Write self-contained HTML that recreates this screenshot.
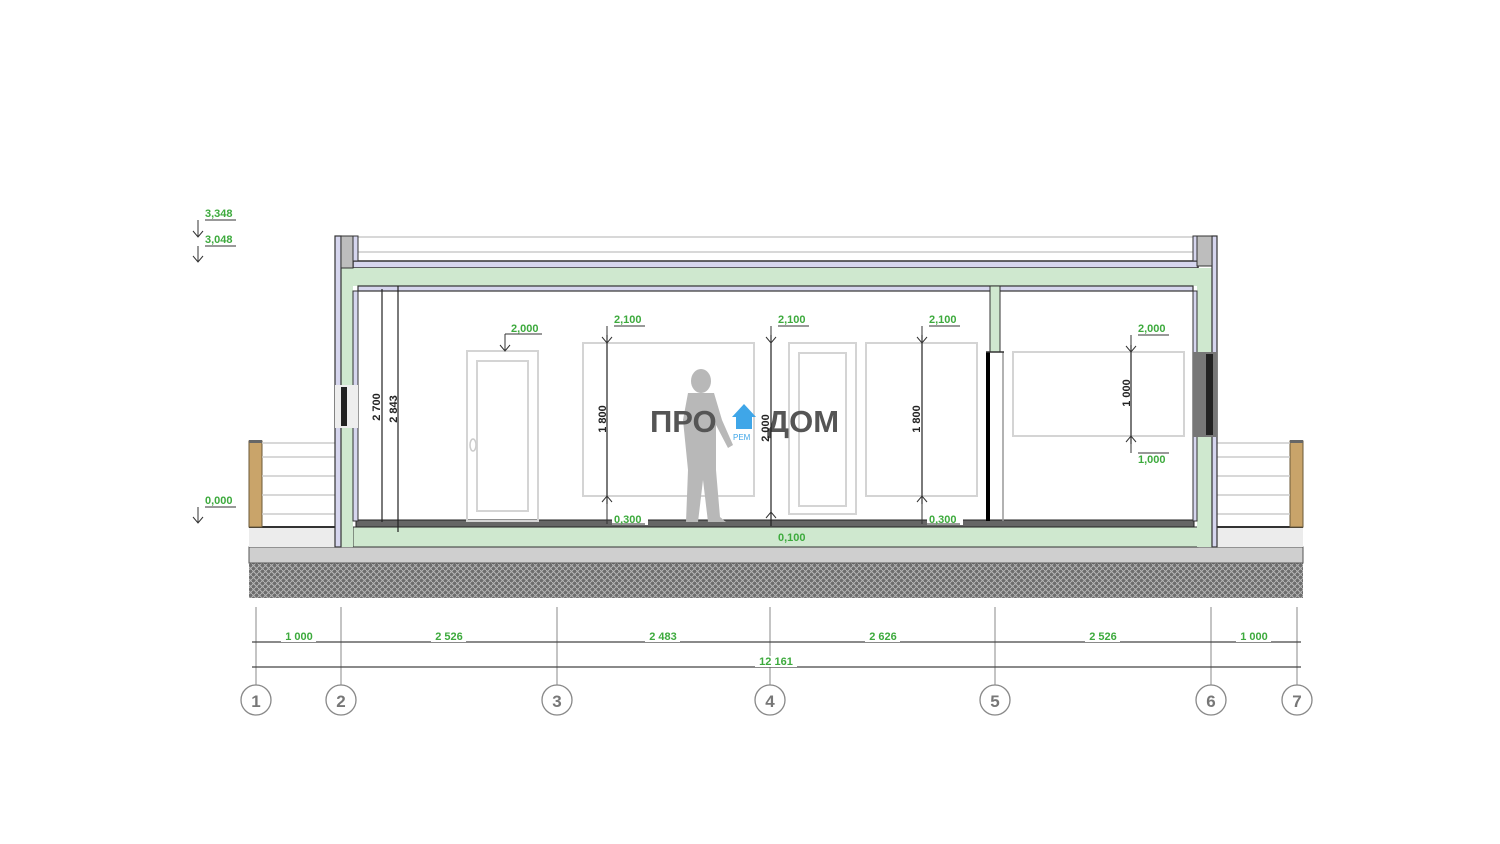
<!DOCTYPE html>
<html><head><meta charset="utf-8"><style>html,body{margin:0;padding:0;background:#fff}svg{display:block}</style></head>
<body>
<svg width="1500" height="844" viewBox="0 0 1500 844" xmlns="http://www.w3.org/2000/svg" font-family="Liberation Sans, sans-serif">
<defs>
<pattern id="gr" width="6" height="6" patternUnits="userSpaceOnUse">
<rect width="6" height="6" fill="#6d6d6d"/><path d="M0 0L3 3M3 0L0 3M3 3L6 6M6 3L3 6" stroke="#b5b5b5" stroke-width="1"/>
</pattern>
</defs>
<rect x="249" y="563" width="1054" height="35" fill="url(#gr)"/>
<rect x="249" y="547" width="1054" height="16" fill="#cfcfcf" stroke="#555" stroke-width="1"/>
<rect x="249" y="527" width="86" height="20" fill="#ececec"/><line x1="249" y1="527" x2="335" y2="527" stroke="#333" stroke-width="2"/>
<rect x="1217" y="527" width="86" height="20" fill="#ececec"/><line x1="1217" y1="527" x2="1303" y2="527" stroke="#333" stroke-width="2"/>
<rect x="249" y="441" width="13" height="86" fill="#c9a46a" stroke="#6b5a3a"/><rect x="249" y="440" width="13" height="3" fill="#666"/>
<rect x="1290" y="441" width="13" height="86" fill="#c9a46a" stroke="#6b5a3a"/><rect x="1290" y="440" width="13" height="3" fill="#666"/>
<g stroke="#ccc" stroke-width="1.5">
<line x1="262" y1="443" x2="335" y2="443"/><line x1="262" y1="457" x2="335" y2="457"/><line x1="262" y1="476" x2="335" y2="476"/><line x1="262" y1="495" x2="335" y2="495"/><line x1="262" y1="514" x2="335" y2="514"/>
<line x1="1217" y1="443" x2="1290" y2="443"/><line x1="1217" y1="457" x2="1290" y2="457"/><line x1="1217" y1="476" x2="1290" y2="476"/><line x1="1217" y1="495" x2="1290" y2="495"/><line x1="1217" y1="514" x2="1290" y2="514"/>
</g>
<line x1="358" y1="237" x2="1193" y2="237" stroke="#ccc" stroke-width="1.5"/>
<line x1="358" y1="252" x2="1193" y2="252" stroke="#ccc" stroke-width="1.5"/>
<rect x="353" y="261" width="845" height="7" fill="#d6d6ee" stroke="#333" stroke-width="1.5"/>
<rect x="353" y="268" width="845" height="18" fill="#cfe8cf"/>
<rect x="358" y="286" width="835" height="5" fill="#d6d6ee" stroke="#333" stroke-width="1.2"/>
<rect x="353" y="527" width="845" height="20" fill="#cfe8cf" stroke="#333" stroke-width="1"/>
<rect x="356" y="520" width="838" height="7" fill="#666" stroke="#222"/>
<rect x="341" y="268" width="12" height="279" fill="#cfe8cf"/>
<rect x="335" y="236" width="6" height="311" fill="#d6d6ee" stroke="#333" stroke-width="1.2"/>
<rect x="341" y="236" width="12" height="32" fill="#bdbdbd" stroke="#333" stroke-width="1"/>
<rect x="353" y="236" width="5" height="25" fill="#d6d6ee" stroke="#333" stroke-width="1"/>
<rect x="353" y="291" width="5" height="230" fill="#d6d6ee" stroke="#333" stroke-width="1"/>
<rect x="335" y="385" width="23" height="43" fill="#eee"/>
<rect x="341" y="387" width="6" height="39" fill="#222"/>
<rect x="1197" y="268" width="15" height="279" fill="#cfe8cf"/>
<rect x="1212" y="236" width="5" height="311" fill="#d6d6ee" stroke="#333" stroke-width="1.2"/>
<rect x="1197" y="236" width="15" height="30" fill="#bdbdbd" stroke="#333" stroke-width="1"/>
<rect x="1193" y="236" width="4" height="25" fill="#d6d6ee" stroke="#333" stroke-width="1"/>
<rect x="1193" y="291" width="4" height="230" fill="#d6d6ee" stroke="#333" stroke-width="1"/>
<rect x="1193" y="352" width="24" height="85" fill="#777"/>
<rect x="1206" y="354" width="7" height="81" fill="#222"/>
<rect x="990" y="286" width="10" height="66" fill="#cfe8cf" stroke="#333" stroke-width="1"/>
<rect x="986" y="352" width="4" height="169" fill="#000"/>
<line x1="1003" y1="352" x2="1003" y2="521" stroke="#999" stroke-width="1.5"/>
<line x1="986" y1="352" x2="1004" y2="352" stroke="#333" stroke-width="1.5"/>
<g fill="none" stroke="#d4d4d4" stroke-width="2">
<rect x="467" y="351" width="71" height="170"/><rect x="477" y="361" width="51" height="150"/>
<rect x="583" y="343" width="171" height="153"/>
<rect x="789" y="343" width="67" height="171"/><rect x="799" y="353" width="47" height="153"/>
<rect x="866" y="343" width="111" height="153"/>
<rect x="1013" y="352" width="171" height="84"/>
</g>
<ellipse cx="473" cy="445" rx="3" ry="6" fill="none" stroke="#ccc" stroke-width="1.5"/>
<g fill="#b8b8b8">
<ellipse cx="701" cy="381" rx="10" ry="12"/>
<path d="M688 393 L714 393 L722 420 L733 445 L728 448 L716 425 L716 470 L720 517 L726 522 L708 522 L703 480 L698 522 L686 522 L688 470 L683 420 Z"/>
</g>
<text x="650" y="432" font-size="31" font-weight="bold" fill="#555">ПРО</text>
<text x="767" y="432" font-size="31" font-weight="bold" fill="#555">ДОМ</text>
<path d="M744 404 L732 417 L736 417 L736 429 L752 429 L752 417 L756 417 Z" fill="#3fa6e8"/>
<text x="733" y="440" font-size="8" fill="#3fa6e8">РЕМ</text>
<g stroke="#222" stroke-width="1.2" fill="none">
<line x1="382" y1="289" x2="382" y2="522"/><line x1="398" y1="286" x2="398" y2="532"/>
<line x1="607" y1="335" x2="607" y2="504"/>
<line x1="771" y1="335" x2="771" y2="526"/>
<line x1="922" y1="335" x2="922" y2="504"/>
<line x1="1131" y1="345" x2="1131" y2="444"/>
</g>
<g font-size="11" font-weight="bold" fill="#222">
<text transform="translate(380,407) rotate(-90)" text-anchor="middle">2 700</text>
<text transform="translate(397,409) rotate(-90)" text-anchor="middle">2 843</text>
<text transform="translate(606,419) rotate(-90)" text-anchor="middle">1 800</text>
<text transform="translate(769,428) rotate(-90)" text-anchor="middle">2 000</text>
<text transform="translate(920,419) rotate(-90)" text-anchor="middle">1 800</text>
<text transform="translate(1130,393) rotate(-90)" text-anchor="middle">1 000</text>
</g>
<rect x="612" y="513" width="36" height="12" fill="#fff"/>
<rect x="927" y="513" width="36" height="12" fill="#fff"/>
<g stroke="#333" stroke-width="1" fill="none">
<path d="M205 220H236M198 220V237M193 231L198 237L203 231"/>
<path d="M205 246H236M198 246V262M193 256L198 262L203 256"/>
<path d="M205 507H236M198 507V523M193 517L198 523L203 517"/>
<path d="M505 334H542M505 334V351M500 345L505 351L510 345"/>
<path d="M614 326H645M607 326V343M602 337L607 343L612 337"/>
<path d="M778 326H809M771 326V343M766 337L771 343L776 337"/>
<path d="M929 326H960M922 326V343M917 337L922 343L927 337"/>
<path d="M1138 335H1169M1131 335V352M1126 346L1131 352L1136 346"/>
<path d="M1138 453H1169M1131 453V436M1126 442L1131 436L1136 442"/>
<path d="M612 524H645M607 524V496M602 502L607 496L612 502"/>
<path d="M927 524H960M922 524V496M917 502L922 496L927 502"/>
<path d="M766 518L771 512L776 518"/>
</g>
<g font-size="11" font-weight="bold" fill="#3daa3d">
<text x="205" y="217">3,348</text><text x="205" y="243">3,048</text><text x="205" y="504">0,000</text>
<text x="511" y="332">2,000</text>
<text x="614" y="323">2,100</text><text x="778" y="323">2,100</text><text x="929" y="323">2,100</text>
<text x="1138" y="332">2,000</text><text x="1138" y="463">1,000</text>
<text x="614" y="523">0,300</text><text x="929" y="523">0,300</text>
<text x="778" y="541">0,100</text>
</g>
<g stroke="#888" stroke-width="1">
<line x1="256" y1="607" x2="256" y2="685"/><line x1="341" y1="607" x2="341" y2="685"/><line x1="557" y1="607" x2="557" y2="685"/><line x1="770" y1="607" x2="770" y2="685"/><line x1="995" y1="607" x2="995" y2="685"/><line x1="1211" y1="607" x2="1211" y2="685"/><line x1="1297" y1="607" x2="1297" y2="685"/>
</g>
<g stroke="#444" stroke-width="1.3">
<line x1="252" y1="642" x2="1301" y2="642"/><line x1="252" y1="667" x2="1301" y2="667"/>
</g>
<g fill="#fff">
<rect x="281" y="630" width="35" height="12"/><rect x="431" y="630" width="35" height="12"/><rect x="645" y="630" width="35" height="12"/><rect x="865" y="630" width="35" height="12"/><rect x="1085" y="630" width="35" height="12"/><rect x="1236" y="630" width="35" height="12"/><rect x="755" y="656" width="42" height="11"/>
</g>
<g font-size="11" font-weight="bold" fill="#3daa3d" text-anchor="middle">
<text x="299" y="640">1 000</text><text x="449" y="640">2 526</text><text x="663" y="640">2 483</text><text x="883" y="640">2 626</text><text x="1103" y="640">2 526</text><text x="1254" y="640">1 000</text><text x="776" y="665">12 161</text>
</g>
<g fill="#fff" stroke="#888" stroke-width="1.3">
<circle cx="256" cy="700" r="15"/><circle cx="341" cy="700" r="15"/><circle cx="557" cy="700" r="15"/><circle cx="770" cy="700" r="15"/><circle cx="995" cy="700" r="15"/><circle cx="1211" cy="700" r="15"/><circle cx="1297" cy="700" r="15"/>
</g>
<g font-size="17" font-weight="bold" fill="#777" text-anchor="middle">
<text x="256" y="707">1</text><text x="341" y="707">2</text><text x="557" y="707">3</text><text x="770" y="707">4</text><text x="995" y="707">5</text><text x="1211" y="707">6</text><text x="1297" y="707">7</text>
</g>
</svg>
</body></html>
